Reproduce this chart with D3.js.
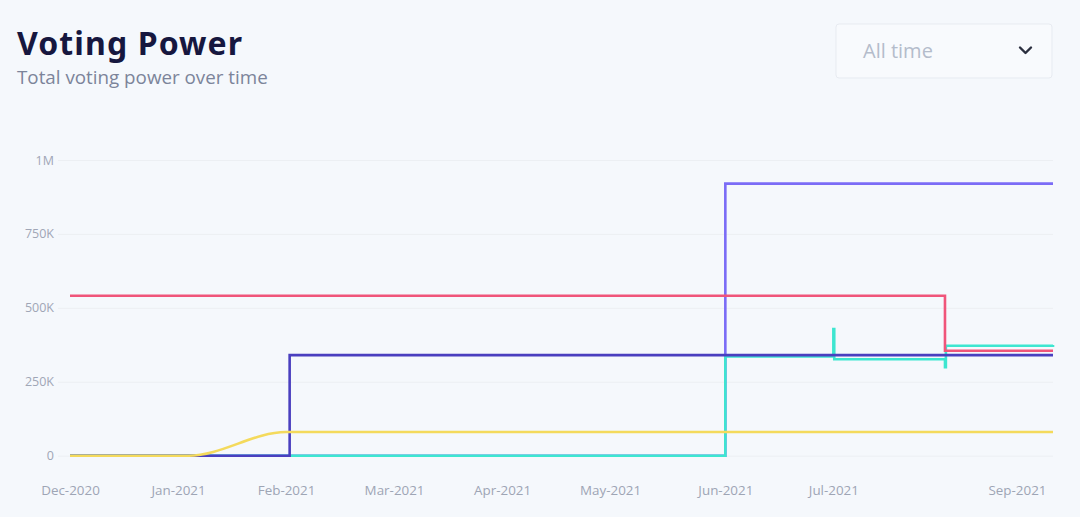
<!DOCTYPE html>
<html>
<head>
<meta charset="utf-8">
<script src="https://cdn.jsdelivr.net/npm/d3@7"></script>
<style>
  html, body { margin: 0; padding: 0; background: #f5f8fc; }
  svg { display: block; }
</style>
</head>
<body>
<svg id="chart" width="1080" height="517"></svg>
<script>
// ---- data ----
const yTicks = [0, 250000, 500000, 750000, 1000000];
const yTickLabels = ["0", "250K", "500K", "750K", "1M"];
const xTickDates = ["2020-12-01", "2020-12-31", "2021-01-30", "2021-03-01", "2021-03-31", "2021-04-30", "2021-06-01", "2021-07-01", "2021-08-21"];
const xTickLabels = ["Dec-2020", "Jan-2021", "Feb-2021", "Mar-2021", "Apr-2021", "May-2021", "Jun-2021", "Jul-2021", "Sep-2021"];

const purpleDates = ["2020-12-01", "2021-06-01", "2021-08-31"];
const purpleValues = [0, 920000, 920000];

const cyanDates = ["2020-12-01", "2021-06-01", "2021-07-01", "2021-07-01T06:00", "2021-08-01", "2021-08-01T06:00", "2021-08-31"];
const cyanValues = [0, 336000, 428000, 326000, 299000, 372000, 374000];

const redDates = ["2020-12-01", "2021-08-01", "2021-08-31"];
const redValues = [541000, 355000, 355000];

const navyDates = ["2020-12-01", "2021-01-31", "2021-08-31"];
const navyValues = [0, 340000, 340000];

const yellowDates = ["2020-12-01", "2021-01-03", "2021-01-30", "2021-08-31"];
const yellowValues = [0, 0, 80000, 80000];

// ---- chart ----
const svg = d3.select("#chart");
const parse = d => new Date(d.length > 10 ? d : d + "T00:00");

const x = d3.scaleTime()
  .domain([parse("2020-12-01"), parse("2021-08-31")])
  .range([70, 1053]);
const y = d3.scaleLinear().domain([0, 1000000]).range([455.7, 160]);

svg.append("rect").attr("width", 1080).attr("height", 517).attr("fill", "#f5f8fc");

// Title
svg.append("text").attr("x", 17).attr("y", 55)
  .attr("font-family", "'Noto Sans', sans-serif").attr("font-weight", 700)
  .attr("font-size", 32).attr("letter-spacing", 1.1).attr("fill", "#16173f").text("Voting Power");
svg.append("text").attr("x", 17).attr("y", 84)
  .attr("font-family", "'Open Sans', sans-serif")
  .attr("font-size", 18.8).attr("fill", "#7c849a").text("Total voting power over time");

// Dropdown
svg.append("rect").attr("x", 836).attr("y", 24).attr("width", 216).attr("height", 54).attr("rx", 3)
  .attr("fill", "#f8fafd").attr("stroke", "#e7ebf1");
svg.append("text").attr("x", 863).attr("y", 58)
  .attr("font-family", "'Open Sans', sans-serif")
  .attr("font-size", 20).attr("fill", "#b4bccb").text("All time");
svg.append("path").attr("d", "M1020,47.5 L1025.5,53 L1031,47.5")
  .attr("fill", "none").attr("stroke", "#2b2f3f").attr("stroke-width", 2.4)
  .attr("stroke-linecap", "round").attr("stroke-linejoin", "round");

// Y axis (grid + labels)
const yAxis = d3.axisLeft(y).tickValues(yTicks)
  .tickFormat((d, i) => yTickLabels[i]).tickSize(-(1053 - 58)).tickPadding(4);
const gy = svg.append("g").attr("transform", "translate(58,0)").call(yAxis);
gy.select(".domain").remove();
gy.selectAll(".tick line").attr("stroke", "#eceff3").attr("stroke-width", 1);
gy.selectAll(".tick text").attr("font-family", "'Open Sans', sans-serif")
  .attr("font-size", 12.5).attr("fill", "#a0a6b6");

// X axis labels
const xAxis = d3.axisBottom(x).tickValues(xTickDates.map(parse))
  .tickFormat((d, i) => xTickLabels[i]).tickSize(0).tickPadding(0);
const gx = svg.append("g").attr("transform", "translate(0,482)").call(xAxis);
gx.select(".domain").remove();
gx.selectAll(".tick text").attr("font-family", "'Open Sans', sans-serif")
  .attr("font-size", 13.4).attr("fill", "#9ea5b5").attr("dy", "0.95em");

// Lines
function series(dates, values) {
  return dates.map((d, i) => ({ date: parse(d), value: values[i] }));
}
const stepLine = d3.line().x(d => x(d.date)).y(d => y(d.value)).curve(d3.curveStepAfter);
const smoothLine = d3.line().x(d => x(d.date)).y(d => y(d.value)).curve(d3.curveMonotoneX);

const lines = [
  { data: series(purpleDates, purpleValues), color: "#7b6cf6", gen: stepLine },
  { data: series(cyanDates, cyanValues), color: "#3de6d0", gen: stepLine },
  { data: series(redDates, redValues), color: "#f0557a", gen: stepLine },
  { data: series(navyDates, navyValues), color: "#4a3fbf", gen: stepLine },
  { data: series(yellowDates, yellowValues), color: "#f4da5c", gen: smoothLine }
];
svg.append("g").selectAll("path").data(lines).join("path")
  .attr("d", d => d.gen(d.data))
  .attr("fill", "none").attr("stroke", d => d.color)
  .attr("stroke-width", 2.6).attr("stroke-linejoin", "miter");
</script>
</body>
</html>
